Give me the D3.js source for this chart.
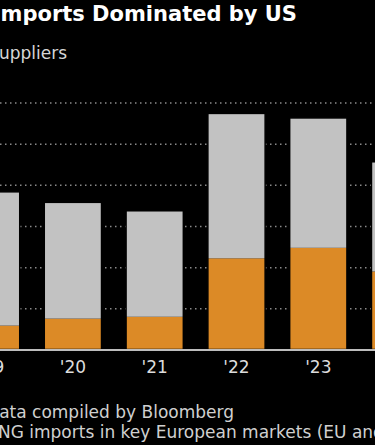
<!DOCTYPE html>
<html>
<head>
<meta charset="utf-8">
<script src="https://cdn.jsdelivr.net/npm/d3@7"></script>
<style>
  body { margin: 0; background: #000; overflow: hidden; }
  svg { display: block; font-family: "DejaVu Sans", sans-serif; }
</style>
</head>
<body>
<div id="chart-area"></div>
<script>
// LNG imports into key European markets, million tons
var years = ["'19", "'20", "'21", "'22", "'23", "'24"];
var usImports = [11.6, 15.0, 15.9, 44.3, 49.4, 37.9];
var otherImports = [65.0, 56.5, 51.5, 70.4, 63.1, 53.3];
var gridTicks = [20, 40, 60, 80, 100, 120];

var width = 375, height = 445;

var svg = d3.select("#chart-area")
    .append("svg")
        .attr("width", width)
        .attr("height", height);

svg.append("rect")
    .attr("width", width)
    .attr("height", height)
    .attr("fill", "#000");

var data = years.map(function(y, i){
    return { year: y, us: usImports[i], other: otherImports[i] };
});

var xscale = d3.scaleBand()
    .domain(years)
    .range([-49.8, 441])
    .paddingInner(0.3)
    .paddingOuter(0.15);

var yscale = d3.scaleLinear()
    .domain([0, 120])
    .range([349.5, 102.5]);

// dotted gridlines
var grid = svg.append("g")
    .attr("class", "grid")
    .attr("transform", "translate(-60,0)")
    .call(d3.axisRight(yscale).tickValues(gridTicks).tickSize(width + 120).tickFormat(""));
grid.select(".domain").remove();
grid.selectAll("line")
    .attr("stroke", "#8a8a8a")
    .attr("stroke-width", 1.5)
    .attr("stroke-dasharray", "1.5,3.5");

// stacked bars
var stack = d3.stack().keys(["us", "other"])(data);
var colors = { us: "#dc8a26", other: "#c2c2c2" };

svg.append("g").selectAll("g")
    .data(stack)
    .enter()
    .append("g")
        .attr("fill", function(d){ return colors[d.key]; })
    .selectAll("rect")
    .data(function(d){ return d; })
    .enter()
    .append("rect")
        .attr("x", function(d){ return xscale(d.data.year); })
        .attr("width", xscale.bandwidth())
        .attr("y", function(d){ return yscale(d[1]); })
        .attr("height", function(d){ return yscale(d[0]) - yscale(d[1]); });

// bar outlines
svg.append("g").selectAll("rect")
    .data(data)
    .enter()
    .append("rect")
        .attr("x", function(d){ return xscale(d.year); })
        .attr("width", xscale.bandwidth())
        .attr("y", function(d){ return yscale(d.us + d.other); })
        .attr("height", function(d){ return yscale(0) - yscale(d.us + d.other); })
        .attr("fill", "none")
        .attr("stroke", "#000")
        .attr("stroke-width", 1.5);

// baseline
svg.append("line")
    .attr("x1", -60)
    .attr("x2", width + 60)
    .attr("y1", yscale(0) + 0.5)
    .attr("y2", yscale(0) + 0.5)
    .attr("stroke", "#bdbdbd")
    .attr("stroke-width", 2);

// x axis labels
var xAxis = svg.append("g")
    .attr("transform", "translate(0," + (yscale(0) + 8) + ")")
    .call(d3.axisBottom(xscale).tickSize(0));
xAxis.select(".domain").remove();
xAxis.selectAll("text")
    .attr("fill", "#dcdcdc")
    .attr("font-size", "17px")
    .attr("font-family", "DejaVu Sans, sans-serif");

// titles
svg.append("text")
    .attr("x", 297)
    .attr("y", 21)
    .attr("text-anchor", "end")
    .attr("fill", "#fff")
    .attr("font-size", "21px")
    .attr("font-weight", "bold")
    .text("Europe's LNG Imports Dominated by US");

svg.append("text")
    .attr("x", 67)
    .attr("y", 59)
    .attr("text-anchor", "end")
    .attr("fill", "#d6d6d6")
    .attr("font-size", "17px")
    .text("LNG imports from US vs. other suppliers");

// source / note
svg.append("text")
    .attr("x", 234)
    .attr("y", 418)
    .attr("text-anchor", "end")
    .attr("fill", "#d0d0d0")
    .attr("font-size", "17px")
    .text("Source: Kpler data compiled by Bloomberg");

var prefix = svg.append("text")
    .attr("font-size", "17px")
    .text("Note: L");
var prefixWidth = prefix.node().getComputedTextLength();
prefix.remove();

svg.append("text")
    .attr("x", -2 - prefixWidth)
    .attr("y", 438)
    .attr("fill", "#d0d0d0")
    .attr("font-size", "17px")
    .text("Note: LNG imports in key European markets (EU and UK)");
</script>
</body>
</html>
